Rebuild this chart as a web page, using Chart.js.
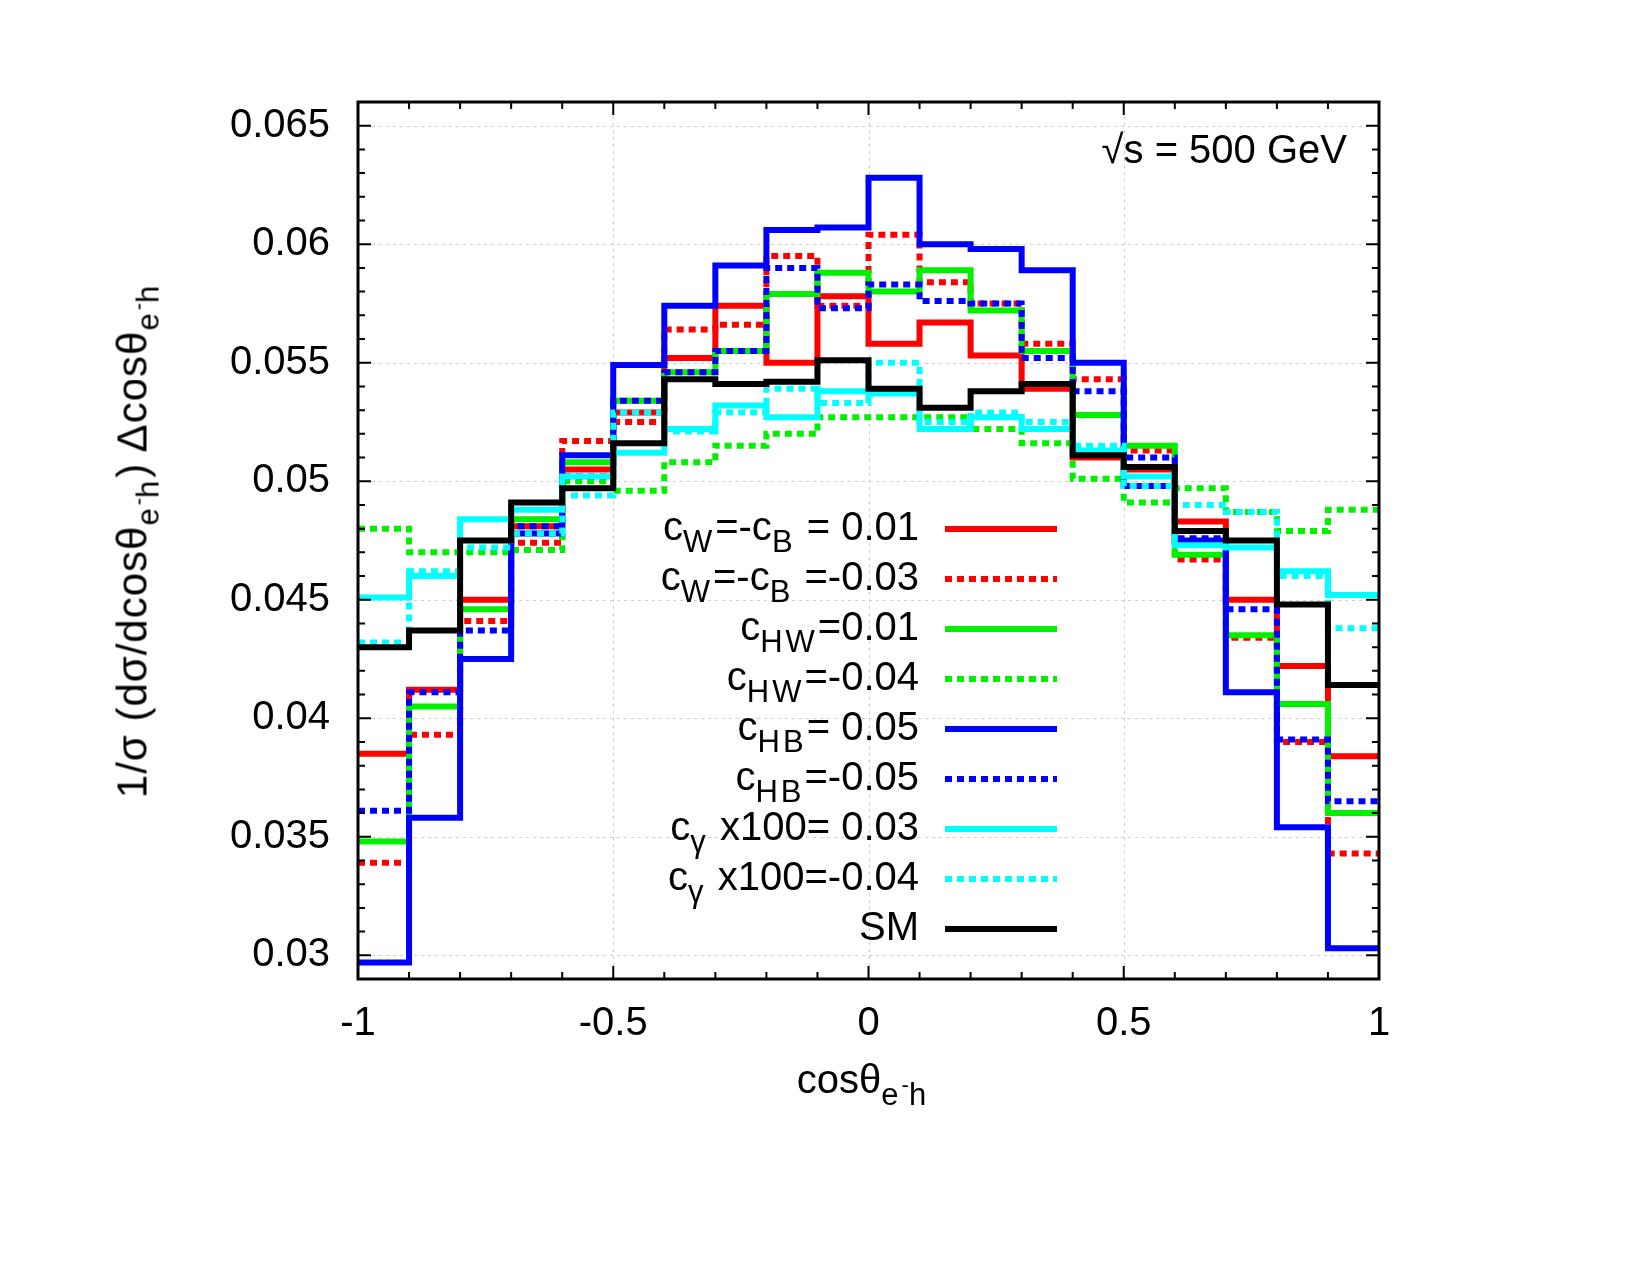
<!DOCTYPE html>
<html>
<head>
<meta charset="utf-8">
<title>cos theta e-h, sqrt(s) = 500 GeV</title>
<script src="https://cdn.jsdelivr.net/npm/chart.js@4.4.0/dist/chart.umd.min.js"></script>
<style>
  body { margin: 0; background: #fff; }
  #wrap { position: relative; width: 1650px; height: 1275px; font-family: "Liberation Sans", Arial, Helvetica, sans-serif; color: #000; }
  #wrap canvas { position: absolute; left: 0; top: 0; }
  .lbl { position: absolute; font-size: 40px; line-height: 40px; white-space: nowrap; }
  .sub { font-size: 31px; position: relative; top: 12px; letter-spacing: 3px; }
  .sup { font-size: 22px; position: relative; top: -13px; letter-spacing: 0; }
  .leg { right: 731px; text-align: right; }
  #ytitle { font-size: 42px; letter-spacing: 1px; }
</style>
</head>
<body>
<div id="wrap">
  <canvas id="histo" width="1650" height="1275"></canvas>
  <div class="lbl" id="ytitle" style="left:136px; top:517px; width:700px; margin-left:-350px; text-align:center; transform:rotate(-90deg);">1/σ (dσ/dcosθ<span class="sub">e<span class="sup">-</span>h</span>) Δcosθ<span class="sub">e<span class="sup">-</span>h</span></div>
  <div class="lbl" id="xtitle" style="left:663px; top:1059px; width:400px; text-align:center;">cosθ<span class="sub">e<span class="sup">-</span>h</span></div>
  <div class="lbl" style="right:303px; top:129px;">√s = 500 GeV</div>
</div>
<script>
// bin edges of cos(theta_e-h)
var binEdges = [-1, -0.9, -0.8, -0.7, -0.6, -0.5, -0.4, -0.3, -0.2, -0.1, 0,
                0.1, 0.2, 0.3, 0.4, 0.5, 0.6, 0.7, 0.8, 0.9, 1];

// normalised distributions, one value per bin
var cwPos  = [0.0385, 0.0412, 0.0450, 0.0481, 0.0505, 0.0529, 0.0552, 0.0574, 0.0550, 0.0578,
              0.0558, 0.0567, 0.0553, 0.0539, 0.0510, 0.0505, 0.0483, 0.0450, 0.0422, 0.0384];
var cwNeg  = [0.0339, 0.0393, 0.0441, 0.0474, 0.0517, 0.0525, 0.0564, 0.0566, 0.0595, 0.0574,
              0.0604, 0.0584, 0.0575, 0.0558, 0.0543, 0.0513, 0.0467, 0.0434, 0.0390, 0.0343];
var chwPos = [0.0348, 0.0405, 0.0446, 0.0484, 0.0508, 0.0534, 0.0546, 0.0555, 0.0579, 0.0588,
              0.0580, 0.0589, 0.0572, 0.0555, 0.0528, 0.0515, 0.0469, 0.0435, 0.0406, 0.0360];
var chwNeg = [0.0480, 0.0470, 0.0470, 0.0471, 0.0500, 0.0496, 0.0508, 0.0515, 0.0520, 0.0527,
              0.0527, 0.0527, 0.0522, 0.0516, 0.0501, 0.0491, 0.0497, 0.0487, 0.0479, 0.0488];
var chbPos = [0.0297, 0.0358, 0.0425, 0.0478, 0.0511, 0.0549, 0.0574, 0.0591, 0.0606, 0.0607,
              0.0628, 0.0600, 0.0598, 0.0589, 0.0550, 0.0498, 0.0475, 0.0411, 0.0354, 0.0303];
var chbNeg = [0.0361, 0.0411, 0.0437, 0.0481, 0.0502, 0.0534, 0.0546, 0.0555, 0.0590, 0.0573,
              0.0583, 0.0576, 0.0575, 0.0552, 0.0538, 0.0510, 0.0476, 0.0446, 0.0391, 0.0365];
var cgPos  = [0.0451, 0.0460, 0.0484, 0.0488, 0.0502, 0.0512, 0.0522, 0.0532, 0.0527, 0.0538,
              0.0537, 0.0522, 0.0527, 0.0522, 0.0513, 0.0502, 0.0473, 0.0472, 0.0462, 0.0452];
var cgNeg  = [0.0432, 0.0462, 0.0472, 0.0478, 0.0494, 0.0529, 0.0521, 0.0529, 0.0539, 0.0533,
              0.0550, 0.0525, 0.0529, 0.0525, 0.0515, 0.0498, 0.0490, 0.0487, 0.0460, 0.0438];
var sm     = [0.0430, 0.0437, 0.0475, 0.0491, 0.0497, 0.0516, 0.0543, 0.0541, 0.0542, 0.0551,
              0.0539, 0.0531, 0.0538, 0.0541, 0.0511, 0.0506, 0.0479, 0.0475, 0.0448, 0.0414];

var xTicks = [-1, -0.5, 0, 0.5, 1];
var xTickLabels = ["-1", "-0.5", "0", "0.5", "1"];
var yTicks = [0.03, 0.035, 0.04, 0.045, 0.05, 0.055, 0.06, 0.065];
var yTickLabels = ["0.03", "0.035", "0.04", "0.045", "0.05", "0.055", "0.06", "0.065"];

var legendLabels = [
  'c<span class="sub">W</span>=-c<span class="sub">B</span> = 0.01',
  'c<span class="sub">W</span>=-c<span class="sub">B</span> =-0.03',
  'c<span class="sub">HW</span>=0.01',
  'c<span class="sub">HW</span>=-0.04',
  'c<span class="sub">HB</span>= 0.05',
  'c<span class="sub">HB</span>=-0.05',
  'c<span class="sub">γ</span> x100= 0.03',
  'c<span class="sub">γ</span> x100=-0.04',
  'SM'
];

var DASH = [7, 5];

function histo(vals) {
  // one point per left bin edge, plus the closing edge
  var pts = vals.map(function (v, i) { return { x: binEdges[i], y: v }; });
  pts.push({ x: binEdges[binEdges.length - 1], y: vals[vals.length - 1] });
  return pts;
}

var series = [
  { data: cwPos,  color: '#ff0000', dash: [] },
  { data: cwNeg,  color: '#ff0000', dash: DASH },
  { data: chwPos, color: '#00f000', dash: [] },
  { data: chwNeg, color: '#00f000', dash: DASH },
  { data: chbPos, color: '#0000ff', dash: [] },
  { data: chbNeg, color: '#0000ff', dash: DASH },
  { data: cgPos,  color: '#00ffff', dash: [] },
  { data: cgNeg,  color: '#00ffff', dash: DASH },
  { data: sm,     color: '#000000', dash: [] }
];

var datasets = series.map(function (s, i) {
  return {
    label: legendLabels[i].replace(/<[^>]+>/g, ''),
    data: histo(s.data),
    stepped: 'before',
    borderColor: s.color,
    borderWidth: 6,
    borderDash: s.dash,
    borderCapStyle: 'butt',
    borderJoinStyle: 'miter',
    pointRadius: 0,
    fill: false,
    order: series.length - i   // later series on top, as gnuplot does
  };
});

// legend text as html, right aligned
var wrap = document.getElementById('wrap');
legendLabels.forEach(function (t, i) {
  var d = document.createElement('div');
  d.className = 'lbl leg';
  d.style.top = (506 + 50 * i) + 'px';
  d.innerHTML = t;
  wrap.appendChild(d);
});

var framePlugin = {
  id: 'frame',
  beforeDatasetsDraw: function (chart) {
    var ctx = chart.ctx, a = chart.chartArea, x = chart.scales.x, y = chart.scales.y;
    ctx.save();
    ctx.strokeStyle = '#cfcfcf';
    ctx.lineWidth = 1;
    ctx.setLineDash([3, 4]);
    xTicks.forEach(function (v) {
      var px = Math.round(x.getPixelForValue(v)) + 0.5;
      ctx.beginPath(); ctx.moveTo(px, a.top); ctx.lineTo(px, a.bottom); ctx.stroke();
    });
    yTicks.forEach(function (v) {
      var py = Math.round(y.getPixelForValue(v)) + 0.5;
      ctx.beginPath(); ctx.moveTo(a.left, py); ctx.lineTo(a.right, py); ctx.stroke();
    });
    ctx.restore();
  },
  afterDatasetsDraw: function (chart) {
    var ctx = chart.ctx, a = chart.chartArea, x = chart.scales.x, y = chart.scales.y;
    ctx.save();
    ctx.strokeStyle = '#000';
    ctx.lineWidth = 2;
    ctx.setLineDash([]);
    var k, v, px, py, len;
    for (k = -10; k <= 10; k++) {
      v = k / 10;
      len = (k % 5 === 0) ? 13 : 7;
      px = x.getPixelForValue(v);
      ctx.beginPath();
      ctx.moveTo(px, a.bottom); ctx.lineTo(px, a.bottom - len);
      ctx.moveTo(px, a.top); ctx.lineTo(px, a.top + len);
      ctx.stroke();
    }
    for (k = 29; k <= 66; k++) {
      v = k / 1000;
      len = (k % 5 === 0) ? 13 : 7;
      py = y.getPixelForValue(v);
      ctx.beginPath();
      ctx.moveTo(a.left, py); ctx.lineTo(a.left + len, py);
      ctx.moveTo(a.right, py); ctx.lineTo(a.right - len, py);
      ctx.stroke();
    }
    ctx.lineWidth = 3;
    ctx.strokeRect(a.left, a.top, a.right - a.left, a.bottom - a.top);

    // legend samples
    chart.data.datasets.forEach(function (ds, i) {
      var ly = 529 + 50 * i;
      ctx.strokeStyle = ds.borderColor;
      ctx.lineWidth = ds.borderWidth;
      ctx.lineCap = 'butt';
      ctx.setLineDash(ds.borderDash);
      ctx.beginPath(); ctx.moveTo(945, ly); ctx.lineTo(1057, ly); ctx.stroke();
    });
    ctx.restore();
  }
};

var tickFont = { family: '"Liberation Sans", Arial, Helvetica, sans-serif', size: 40 };

var config = {
  type: 'line',
  data: { datasets: datasets },
  options: {
    responsive: false,
    animation: false,
    layout: { padding: { top: 102, right: 271, left: 0, bottom: 0 } },
    plugins: { legend: { display: false }, tooltip: { enabled: false } },
    scales: {
      x: {
        type: 'linear', min: -1, max: 1,
        afterBuildTicks: function (s) { s.ticks = xTicks.map(function (v) { return { value: v }; }); },
        afterFit: function (s) { s.height = 296; },
        grid: { display: false, drawTicks: false, tickLength: 0 },
        border: { display: false },
        ticks: {
          font: tickFont, color: '#000', padding: 21, maxRotation: 0, autoSkip: false,
          callback: function (v) { return xTickLabels[xTicks.indexOf(v)]; }
        }
      },
      y: {
        type: 'linear', min: 0.029, max: 0.066,
        afterBuildTicks: function (s) { s.ticks = yTicks.map(function (v) { return { value: v }; }); },
        afterFit: function (s) { s.width = 358; },
        grid: { display: false, drawTicks: false, tickLength: 0 },
        border: { display: false },
        ticks: {
          font: tickFont, color: '#000', padding: 28, autoSkip: false,
          callback: function (v) { return yTickLabels[yTicks.indexOf(v)]; }
        }
      }
    }
  },
  plugins: [framePlugin]
};

var chart = new Chart(document.getElementById('histo'), config);
</script>
</body>
</html>
